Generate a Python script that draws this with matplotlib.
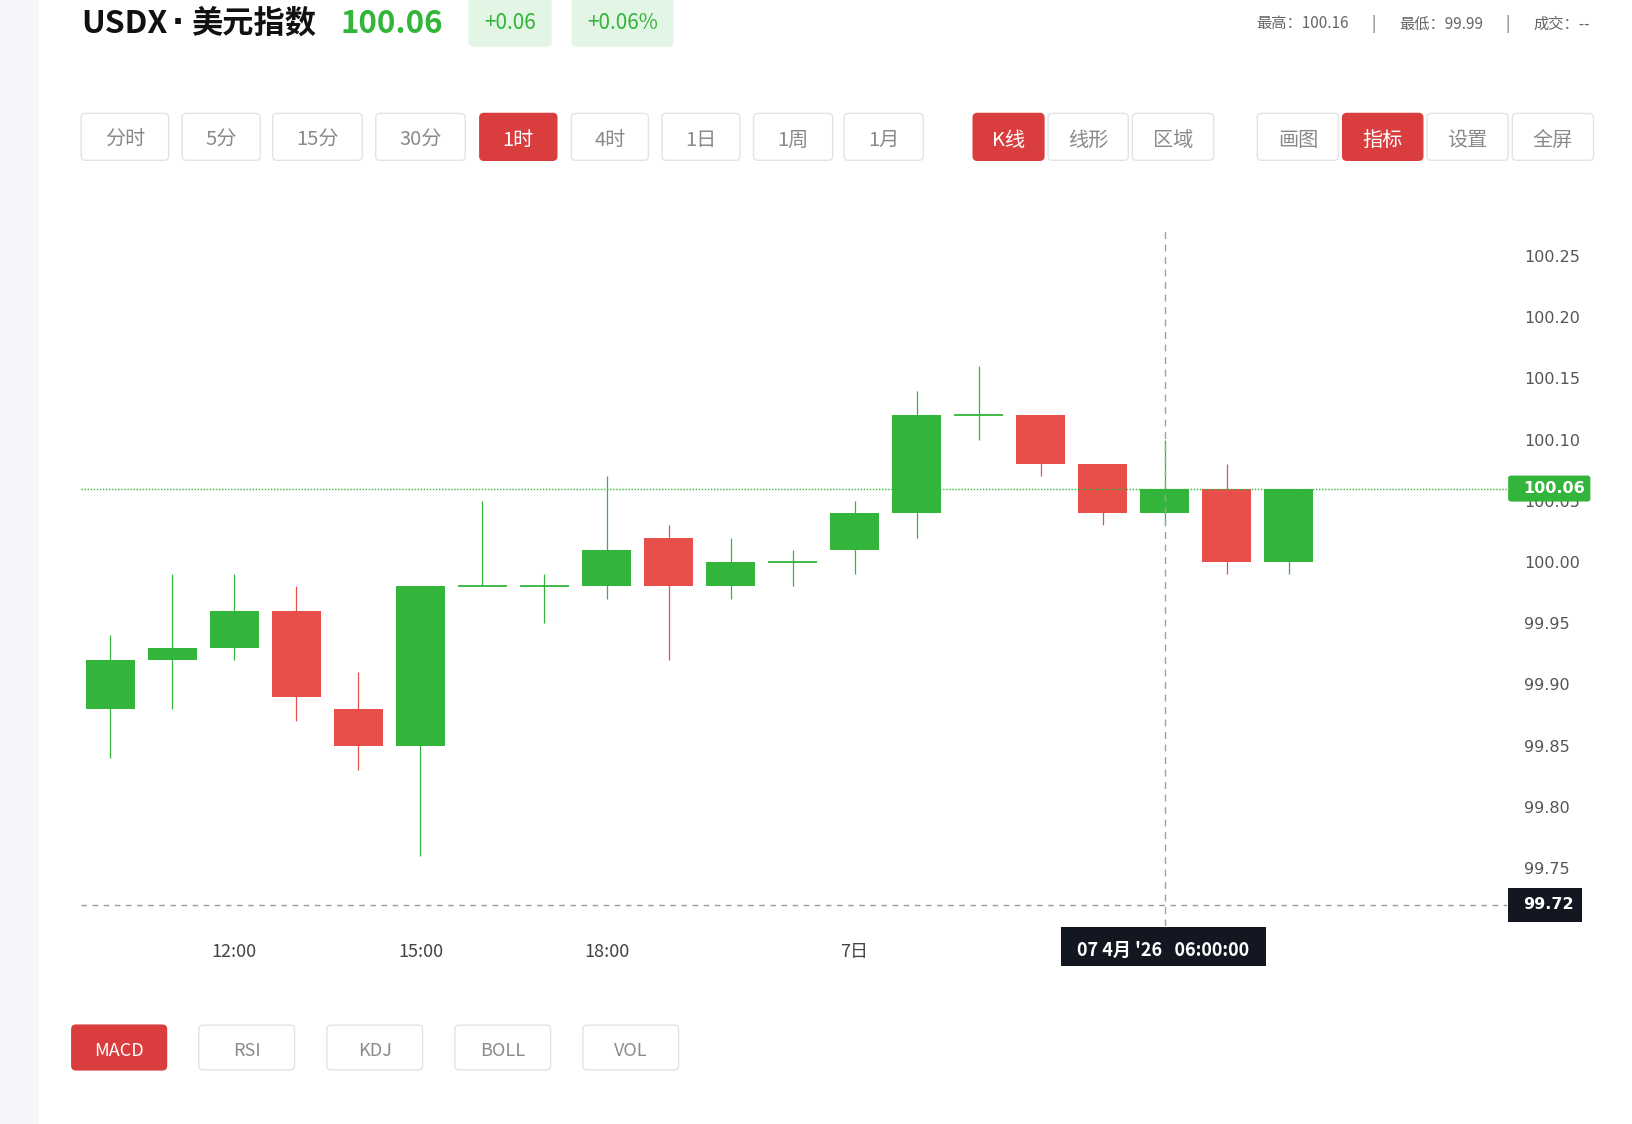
import matplotlib
matplotlib.use("Agg")
import matplotlib.pyplot as plt
import matplotlib.transforms as mtransforms
from matplotlib.patches import FancyBboxPatch, Rectangle

plt.rcParams['font.family'] = ['Noto Sans CJK SC', 'DejaVu Sans']

# ---------------- data ----------------
opens  = [99.88, 99.92, 99.93, 99.96, 99.88, 99.85, 99.98, 99.98, 99.98, 100.02,
          99.98, 100.00, 100.01, 100.04, 100.12, 100.12, 100.08, 100.04, 100.06, 100.00]
closes = [99.92, 99.93, 99.96, 99.89, 99.85, 99.98, 99.98, 99.98, 100.01, 99.98,
          100.00, 100.00, 100.04, 100.12, 100.12, 100.08, 100.04, 100.06, 100.00, 100.06]
highs  = [99.94, 99.99, 99.99, 99.98, 99.91, 99.98, 100.05, 99.99, 100.07, 100.03,
          100.02, 100.01, 100.05, 100.14, 100.16, 100.12, 100.08, 100.10, 100.08, 100.06]
lows   = [99.84, 99.88, 99.92, 99.87, 99.83, 99.76, 99.98, 99.95, 99.97, 99.92,
          99.97, 99.98, 99.99, 100.02, 100.10, 100.07, 100.03, 100.03, 99.99, 99.99]

x_tick_pos = [2, 5, 8, 12]
x_tick_labels = ['12:00', '15:00', '18:00', '7日']
y_ticks = [99.75, 99.80, 99.85, 99.90, 99.95, 100.00, 100.05, 100.10, 100.15, 100.20, 100.25]

last_price = 100.06
low_line = 99.72
cross_idx = 17
cross_label = "07 4月 '26   06:00:00"

title_parts = ['USDX', '·', '美元指数']
change_abs = '+0.06'
change_pct = '+0.06%'
stats_text = ['最高：100.16', '|', '最低：99.99', '|', '成交：--']

period_buttons = ['分时', '5分', '15分', '30分', '1时', '4时', '1日', '1周', '1月']
style_buttons = ['K线', '线形', '区域']
tool_buttons = ['画图', '指标', '设置', '全屏']
indicator_buttons = ['MACD', 'RSI', 'KDJ', 'BOLL', 'VOL']

GREEN = '#33b53b'
RED = '#e84e4a'
BTN_RED = '#d93d3d'

# ---------------- figure ----------------
W, H = 1568, 1080  # layout units (scaled to 1632x1124 output)
fig = plt.figure(figsize=(16.32, 11.24), dpi=100)
fig.patch.set_facecolor('white')

bg = fig.add_axes([0, 0, 1, 1], zorder=0)
bg.set_xlim(0, W)
bg.set_ylim(H, 0)
bg.axis('off')

# left grey strip
bg.add_patch(Rectangle((0, 0), 37, H, facecolor='#f5f6fa', edgecolor='none'))

def rbox(x0, y0, x1, y1, fc, ec, r=4, lw=1.0):
    bg.add_patch(FancyBboxPatch((x0, y0), x1 - x0, y1 - y0,
                                boxstyle=f"round,pad=0,rounding_size={r}",
                                facecolor=fc, edgecolor=ec, linewidth=lw))

# header
bg.text(78, 23, title_parts[0], fontsize=23, fontweight='bold', color='#111111',
        va='center', ha='left')
bg.text(171, 23, title_parts[1], fontsize=23, fontweight='bold', color='#111111',
        va='center', ha='center', family='DejaVu Sans')
bg.text(184, 23, title_parts[2], fontsize=22.5, fontweight='bold', color='#111111',
        va='center', ha='left')
bg.text(327, 23, f'{last_price:.2f}', fontsize=22.5, fontweight='bold', color=GREEN,
        va='center', ha='left')
rbox(450, -8, 530, 45, '#e3f5e4', 'none', r=5)
bg.text(490, 22, change_abs, fontsize=15, color=GREEN, ha='center', va='center')
rbox(549, -8, 647, 45, '#e3f5e4', 'none', r=5)
bg.text(598, 22, change_pct, fontsize=15, color=GREEN, ha='center', va='center')

stats_x = [1207, 1318, 1344, 1446, 1473]
for s, sx in zip(stats_text, stats_x):
    bg.text(sx, 23, s, fontsize=11, color='#666666', ha='left', va='center')

# button rows
period_x = [(78, 162), (175, 250), (262, 348), (361, 447), (461, 535),
            (549, 623), (636, 711), (724, 800), (811, 887)]
style_x = [(935, 1003), (1007, 1084), (1088, 1166)]
tool_x = [(1208, 1286), (1290, 1367), (1371, 1449), (1453, 1531)]

def button_row(labels, xs, active, y0, y1, fs, dy):
    for lab, (a, b) in zip(labels, xs):
        on = lab == active
        rbox(a, y0, b, y1, BTN_RED if on else 'white',
             BTN_RED if on else '#e3e3e3', r=4)
        bg.text((a + b) / 2, (y0 + y1) / 2 + dy, lab, fontsize=fs,
                color='white' if on else '#8a8a8a', ha='center', va='center')

button_row(period_buttons, period_x, '1时', 109, 154, 14.5, 3.5)
button_row(style_buttons, style_x, 'K线', 109, 154, 14.5, 3.5)
button_row(tool_buttons, tool_x, '指标', 109, 154, 14.5, 3.5)

ind_x = [(69, 160), (191, 283), (314, 406), (437, 529), (560, 652)]
button_row(indicator_buttons, ind_x, 'MACD', 985, 1028, 13, 3)

# ---------------- main chart ----------------
L, R, T, B = 78, 1448, 217, 890
ax = fig.add_axes([L / W, 1 - B / H, (R - L) / W, (B - T) / H], zorder=2)
ax.set_facecolor('none')
for sp in ax.spines.values():
    sp.set_visible(False)

ax.set_xlim(-0.47, 22.52)
ax.set_ylim(99.70238, 100.27466)

n = len(opens)
width = 0.79
for i in range(n):
    o, c, h, l = opens[i], closes[i], highs[i], lows[i]
    col = GREEN if c >= o else RED
    ax.vlines(i, l, h, color=col, linewidth=0.9, zorder=2)
    if abs(c - o) < 1e-9:
        ax.hlines(o, i - width / 2, i + width / 2, color=col, linewidth=1.3, zorder=3)
    else:
        ax.bar(i, abs(c - o), bottom=min(o, c), width=width, color=col,
               edgecolor='none', zorder=3)

# last price dotted line and low dashed line
ax.axhline(last_price, color=GREEN, linestyle=(0, (1, 1.2)), linewidth=1.0, zorder=4)
ax.axhline(low_line, color='#9a9a9a', linestyle=(0, (4, 4)), linewidth=1.0, zorder=4)
# crosshair
ax.axvline(cross_idx, color='#a0a0a0', linestyle=(0, (5, 4)), linewidth=1.0, zorder=4)

# ticks
ax.yaxis.tick_right()
ax.set_yticks(y_ticks)
ax.set_yticklabels([f'{v:.2f}' for v in y_ticks], fontsize=11.5, color='#555555',
                   family='DejaVu Sans')
ax.tick_params(axis='y', length=0, pad=12.5)
ax.set_xticks(x_tick_pos)
ax.set_xticklabels(x_tick_labels, fontsize=13, color='#444444')
ax.tick_params(axis='x', length=0, pad=12)

# price tags on right
ytr = mtransforms.blended_transform_factory(ax.transAxes, ax.transData)
px = 1.0 / (R - L)                       # one layout px in axes fraction
py = (ax.get_ylim()[1] - ax.get_ylim()[0]) / (B - T)   # one layout px in data units

ax.add_patch(FancyBboxPatch((1 + 1 * px, last_price - 12.5 * py), 79 * px, 25 * py,
                            boxstyle="round,pad=0,rounding_size=0.002",
                            transform=ytr, facecolor=GREEN, edgecolor='none',
                            clip_on=False, zorder=6))
ax.text(1 + 15 * px, last_price, f'{last_price:.2f}', transform=ytr, fontsize=11.5,
        fontweight='bold', color='white', ha='left', va='center',
        family='DejaVu Sans', clip_on=False, zorder=7)

ax.add_patch(Rectangle((1 + 1 * px, low_line - 16.5 * py), 71 * px, 33 * py,
                       transform=ytr, facecolor='#131722', edgecolor='none',
                       clip_on=False, zorder=6))
ax.text(1 + 15 * px, low_line, f'{low_line:.2f}', transform=ytr, fontsize=11.5,
        fontweight='bold', color='white', ha='left', va='center',
        family='DejaVu Sans', clip_on=False, zorder=7)

# crosshair time label
xtr = mtransforms.blended_transform_factory(ax.transData, ax.transAxes)
ux = 1.0 / 59.6   # one layout px in x data units
ay = 1.0 / (B - T)
ax.add_patch(Rectangle((cross_idx - 100 * ux, -38 * ay), 197 * ux, 37 * ay,
                       transform=xtr, facecolor='#131722', edgecolor='none',
                       clip_on=False, zorder=6))
ax.text(cross_idx - 1.5 * ux, -23 * ay, cross_label, transform=xtr, fontsize=13,
        fontweight='bold', color='white', ha='center', va='center',
        clip_on=False, zorder=7)

fig.savefig('out.png', dpi=100)
